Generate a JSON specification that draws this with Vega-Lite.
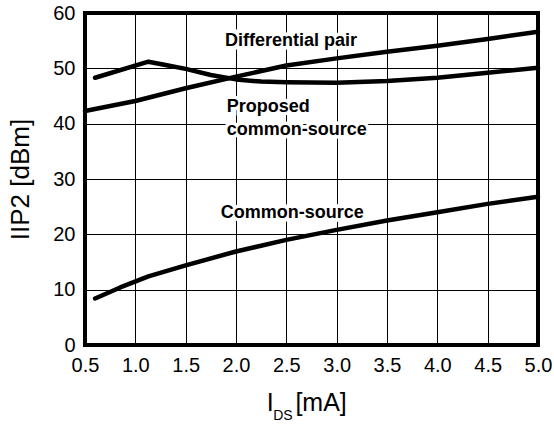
{
  "$schema": "https://vega.github.io/schema/vega-lite/v6.json",
  "autosize": "none",
  "width": 453,
  "height": 332,
  "padding": {"left": 85, "top": 13, "right": 16, "bottom": 79},
  "background": "white",
  "config": {
    "font": "Liberation Sans",
    "view": {"stroke": "black", "strokeWidth": 4},
    "axis": {
      "domain": false,
      "ticks": false,
      "grid": true,
      "gridColor": "black",
      "gridOpacity": 1,
      "gridWidth": 1,
      "labelFont": "Liberation Sans",
      "labelFontSize": 20,
      "labelColor": "black",
      "titleFont": "Liberation Sans",
      "titleFontSize": 26,
      "titleFontWeight": "normal",
      "titleColor": "black"
    }
  },
  "datasets": {
    "curves": [
      {"series": "Differential pair", "ids": 0.5, "iip2": 42.3},
      {"series": "Differential pair", "ids": 1.0, "iip2": 44.1},
      {"series": "Differential pair", "ids": 1.5, "iip2": 46.4},
      {"series": "Differential pair", "ids": 2.0, "iip2": 48.5},
      {"series": "Differential pair", "ids": 2.5, "iip2": 50.5},
      {"series": "Differential pair", "ids": 3.0, "iip2": 51.8},
      {"series": "Differential pair", "ids": 3.5, "iip2": 53.0},
      {"series": "Differential pair", "ids": 4.0, "iip2": 54.1},
      {"series": "Differential pair", "ids": 4.5, "iip2": 55.3},
      {"series": "Differential pair", "ids": 5.0, "iip2": 56.6},
      {"series": "Proposed common-source", "ids": 0.6, "iip2": 48.3},
      {"series": "Proposed common-source", "ids": 1.13, "iip2": 51.2},
      {"series": "Proposed common-source", "ids": 1.3, "iip2": 50.6},
      {"series": "Proposed common-source", "ids": 1.5, "iip2": 49.9},
      {"series": "Proposed common-source", "ids": 1.75, "iip2": 48.8},
      {"series": "Proposed common-source", "ids": 2.0, "iip2": 48.0},
      {"series": "Proposed common-source", "ids": 2.25, "iip2": 47.6},
      {"series": "Proposed common-source", "ids": 2.5, "iip2": 47.5},
      {"series": "Proposed common-source", "ids": 3.0, "iip2": 47.4},
      {"series": "Proposed common-source", "ids": 3.5, "iip2": 47.7},
      {"series": "Proposed common-source", "ids": 4.0, "iip2": 48.3},
      {"series": "Proposed common-source", "ids": 4.5, "iip2": 49.2},
      {"series": "Proposed common-source", "ids": 5.0, "iip2": 50.1},
      {"series": "Common-source", "ids": 0.6, "iip2": 8.4},
      {"series": "Common-source", "ids": 0.85, "iip2": 10.4},
      {"series": "Common-source", "ids": 1.13, "iip2": 12.4},
      {"series": "Common-source", "ids": 1.5, "iip2": 14.4},
      {"series": "Common-source", "ids": 2.0, "iip2": 16.9},
      {"series": "Common-source", "ids": 2.5, "iip2": 19.0},
      {"series": "Common-source", "ids": 3.0, "iip2": 20.8},
      {"series": "Common-source", "ids": 3.5, "iip2": 22.5},
      {"series": "Common-source", "ids": 4.0, "iip2": 24.0},
      {"series": "Common-source", "ids": 4.5, "iip2": 25.5},
      {"series": "Common-source", "ids": 5.0, "iip2": 26.8}
    ],
    "notes": [
      {"label": "Differential pair", "ids": 1.89, "iip2": 54.0},
      {"label": "Proposed", "ids": 1.908, "iip2": 42.1},
      {"label": "common-source", "ids": 1.908, "iip2": 37.9},
      {"label": "Common-source", "ids": 1.848, "iip2": 22.9}
    ],
    "xtitle": [
      {"label": "I", "ids": 2.34, "iip2": -11.9}
    ],
    "xtitleSub": [
      {"label": "DS", "ids": 2.37, "iip2": -13.6}
    ],
    "xtitleUnit": [
      {"label": "[mA]", "ids": 2.59, "iip2": -11.9}
    ]
  },
  "encoding": {
    "x": {
      "field": "ids",
      "type": "quantitative",
      "scale": {"domain": [0.5, 5.0], "nice": false, "zero": false},
      "axis": {"values": [0.5, 1.0, 1.5, 2.0, 2.5, 3.0, 3.5, 4.0, 4.5, 5.0], "format": ".1f", "labelPadding": 10, "title": null, "labelFlush": false}
    },
    "y": {
      "field": "iip2",
      "type": "quantitative",
      "scale": {"domain": [0, 60], "nice": false},
      "axis": {"values": [0, 10, 20, 30, 40, 50, 60], "labelPadding": 10, "title": "IIP2 [dBm]", "titlePadding": 19, "labelFlush": false}
    }
  },
  "layer": [
    {
      "data": {"name": "curves"},
      "mark": {"type": "line", "color": "black", "strokeWidth": 4.5, "interpolate": "linear", "strokeCap": "round", "strokeJoin": "round"},
      "encoding": {"detail": {"field": "series"}}
    },
    {
      "data": {"name": "notes"},
      "mark": {"type": "text", "align": "left", "baseline": "alphabetic", "font": "Liberation Sans", "fontWeight": "bold", "fontSize": 18, "fill": "white", "stroke": "white", "strokeWidth": 7},
      "encoding": {"text": {"field": "label"}}
    },
    {
      "data": {"name": "notes"},
      "mark": {"type": "text", "align": "left", "baseline": "alphabetic", "font": "Liberation Sans", "fontWeight": "bold", "fontSize": 18, "color": "black"},
      "encoding": {"text": {"field": "label"}}
    },
    {
      "data": {"name": "xtitle"},
      "mark": {"type": "text", "align": "center", "baseline": "alphabetic", "font": "Liberation Sans", "fontSize": 25, "color": "black"},
      "encoding": {"text": {"field": "label"}}
    },
    {
      "data": {"name": "xtitleSub"},
      "mark": {"type": "text", "align": "left", "baseline": "alphabetic", "font": "Liberation Sans", "fontSize": 14, "color": "black"},
      "encoding": {"text": {"field": "label"}}
    },
    {
      "data": {"name": "xtitleUnit"},
      "mark": {"type": "text", "align": "left", "baseline": "alphabetic", "font": "Liberation Sans", "fontSize": 25, "color": "black"},
      "encoding": {"text": {"field": "label"}}
    }
  ]
}
